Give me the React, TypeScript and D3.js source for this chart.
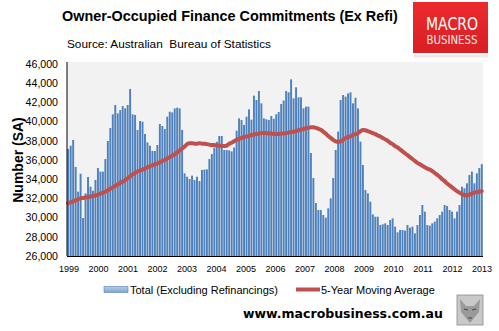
import React from "react";
import * as d3 from "d3";

const yearLabels = ["1999","2000","2001","2002","2003","2004","2005","2006","2007","2008","2009","2010","2011","2012","2013"];

const yTicks = [26000, 28000, 30000, 32000, 34000, 36000, 38000, 40000, 42000, 44000, 46000];

// Monthly totals (Excluding Refinancings), Jan 1999 .. Dec 2012
const totalValues = [
  37150, 37490, 38080, 35270, 32700, 34570, 29960, 32530, 34230, 33220, 32800, 33920,
  35170, 34790, 34790, 36100, 37980, 39330, 40760, 41730, 40860, 41200, 41620, 41380,
  41730, 43400, 40760, 40690, 39130, 40060, 39990, 38710, 37840, 37490, 36940, 36940,
  37560, 39750, 39540, 39230, 40510, 41030, 40960, 41380, 41450, 41380, 39130, 34610,
  34260, 34020, 34370, 33920, 34260, 33810, 34960, 35000, 35030, 36100, 36620, 37280,
  37900, 38500, 38500, 37040, 37040, 37000, 36900, 37300, 39050, 40340, 40160, 39650,
  40510, 41280, 40200, 42700, 42250, 43190, 41900, 40340, 40240, 40160, 40580, 40300,
  40760, 41000, 41830, 42200, 43190, 43050, 44400, 42420, 43570, 42530, 42530, 41380,
  41560, 41560, 36730, 34120, 31520, 30790, 30790, 30270, 29990, 30970, 32010, 34120,
  37040, 38950, 42250, 42770, 42600, 42940, 43050, 41900, 42490, 41380, 37910, 35480,
  32870, 32530, 31660, 30340, 30090, 30090, 29230, 29300, 29400, 29230, 29750, 29920,
  29060, 28470, 28710, 28710, 28640, 29230, 28950, 29060, 28360, 29230, 30270, 31310,
  30620, 29230, 29160, 29400, 29580, 29920, 30270, 30620, 31310, 31200, 30800, 30620,
  29920, 30620, 31310, 33220, 33050, 33570, 34440, 34790, 33570, 34610, 35170, 35560,
];

// 5-Year Moving Average, same months
const maValues = [
  31500, 31600, 31700, 31800, 31900, 32000, 32050, 32100, 32150, 32200, 32250, 32300,
  32400, 32500, 32600, 32700, 32850, 33000, 33150, 33300, 33450, 33600, 33750, 33900,
  34100, 34300, 34500, 34650, 34800, 34900, 35000, 35100, 35250, 35350, 35450, 35550,
  35650, 35750, 35900, 36000, 36150, 36300, 36450, 36600, 36800, 37000, 37200, 37400,
  37650, 37750, 37750, 37700, 37700, 37750, 37700, 37700, 37650, 37600, 37550, 37550,
  37500, 37500, 37450, 37450, 37500, 37700, 37800, 37950, 38100, 38200, 38300, 38400,
  38450, 38500, 38600, 38650, 38700, 38750, 38800, 38800, 38800, 38750, 38750, 38700,
  38700, 38700, 38750, 38750, 38800, 38850, 38900, 38950, 39000, 39100, 39150, 39250,
  39300, 39350, 39400, 39400, 39350, 39250, 39150, 38950, 38750, 38500, 38300, 38100,
  37950, 37900, 37950, 38100, 38300, 38400, 38450, 38600, 38700, 38800, 39000, 39130,
  39100, 39000, 38900, 38800, 38700, 38550, 38450, 38300, 38150, 38000, 37800, 37650,
  37450, 37300, 37100, 36900, 36700, 36500, 36300, 36100, 35900, 35700, 35550, 35400,
  35250, 35100, 35000, 34850, 34650, 34450, 34250, 34000, 33800, 33550, 33350, 33150,
  32950, 32750, 32600, 32450, 32350, 32300, 32400, 32500, 32600, 32650, 32700, 32750,
];

const W = 499;
const H = 331;
const plot = { left: 67, right: 483, top: 62, bottom: 256 };
const FONT = "'Liberation Sans', Arial, sans-serif";

export default function App() {
  const months = d3.range(totalValues.length);
  const x = d3.scaleBand<number>().domain(months).range([plot.left, plot.right]).paddingInner(0.22).paddingOuter(0.1);
  const xYear = d3.scaleLinear().domain([0, yearLabels.length - 1]).range([plot.left + 2, plot.right - 1]);
  const y = d3.scaleLinear().domain([26000, 46000]).range([plot.bottom, plot.top + 2]);
  const line = d3.line<number>()
    .x((_, i) => (x(i) as number) + x.bandwidth() / 2)
    .y((d) => y(d))
    .curve(d3.curveMonotoneX);
  const fmt = d3.format(",");

  return (
    <svg width={W} height={H} style={{ position: "absolute", left: 0, top: 0, background: "#fff" }} fontFamily={FONT}>
      <defs>
        <linearGradient id="logoGrad" x1="0" y1="0" x2="0" y2="1">
          <stop offset="0" stopColor="#ec2a2e" />
          <stop offset="1" stopColor="#d81f24" />
        </linearGradient>
        <linearGradient id="legGrad" x1="0" y1="0" x2="0" y2="1">
          <stop offset="0" stopColor="#b9cde5" />
          <stop offset="1" stopColor="#7fa3d0" />
        </linearGradient>
      </defs>

      {/* Title */}
      <text x={62} y={21} fontSize={14.4} fontWeight="bold" fill="#000">Owner-Occupied Finance Commitments (Ex Refi)</text>
      <text x={67} y={48} fontSize={11.8} fill="#000" style={{ whiteSpace: "pre" }}>{"Source: Australian  Bureau of Statistics"}</text>

      {/* Logo */}
      <rect x={414} y={55} width={74} height={2.5} fill="#fbe1e1" />
      <rect x={413} y={2} width={75} height={51} fill="url(#logoGrad)" />
      <text x={452} y={29.5} fontSize={17} fill="#fff" textAnchor="middle" fontFamily="'DejaVu Sans Condensed', 'DejaVu Sans', sans-serif" textLength={52} lengthAdjust="spacingAndGlyphs" fontWeight={300}>MACRO</text>
      <text x={452} y={43.5} fontSize={12} fill="#fbe9e9" textAnchor="middle" fontFamily="'DejaVu Sans Condensed', 'DejaVu Sans', sans-serif" textLength={51} lengthAdjust="spacingAndGlyphs">BUSINESS</text>

      {/* Plot background */}
      <rect x={plot.left} y={plot.top} width={plot.right - plot.left} height={plot.bottom - plot.top} fill="#f2f2f2" />

      {/* Bars */}
      {totalValues.map((v, i) => (
        <rect key={i} x={x(i)} y={y(v)} width={x.bandwidth()} height={plot.bottom - y(v)} fill="#4f81bd" />
      ))}

      {/* Moving average */}
      <path d={line(maValues) || ""} fill="none" stroke="#c0504d" strokeWidth={4} strokeLinecap="round" strokeLinejoin="round" />

      {/* Axes */}
      <line x1={plot.left} x2={plot.left} y1={plot.top} y2={plot.bottom} stroke="#000" strokeWidth={1} />
      <line x1={plot.left} x2={plot.right} y1={plot.bottom + 0.5} y2={plot.bottom + 0.5} stroke="#000" strokeWidth={1} />

      {yTicks.map((t) => (
        <text key={t} x={58} y={y(t) + 3.8} fontSize={10.6} textAnchor="end" fill="#000">{fmt(t)}</text>
      ))}
      {yearLabels.map((lab, k) => (
        <text key={lab} x={xYear(k)} y={272} fontSize={9} textAnchor="middle" fill="#000">{lab}</text>
      ))}

      <text transform={`translate(23,160) rotate(-90)`} fontSize={14} fontWeight="bold" textAnchor="middle" fill="#000">Number (SA)</text>

      {/* Legend */}
      <rect x={104} y={286.5} width={24} height={6} fill="url(#legGrad)" stroke="#4f81bd" strokeWidth={0.6} />
      <text x={130} y={294} fontSize={11} fill="#000">Total (Excluding Refinancings)</text>
      <line x1={296} x2={320} y1={289.5} y2={289.5} stroke="#c0504d" strokeWidth={4} />
      <text x={321} y={294} fontSize={11} fill="#000">5-Year Moving Average</text>

      {/* Footer */}
      <text x={243} y={318} fontSize={12.5} fontWeight="bold" fontFamily="'DejaVu Sans', Verdana, sans-serif" fill="#000">www.macrobusiness.com.au</text>
      <g>
        <rect x={457} y={295} width={26} height={30} fill="#c9c9c9" stroke="#8a8a8a" strokeWidth={0.8} />
        <path d="M460,299 L466,306 L474,306 L480,299 L479,312 L470,323 L461,312 Z" fill="#9a9a9a" />
        <path d="M464,309 L468,310 M472,310 L476,309 M468,318 L472,318" stroke="#444" strokeWidth={1} />
      </g>
    </svg>
  );
}
